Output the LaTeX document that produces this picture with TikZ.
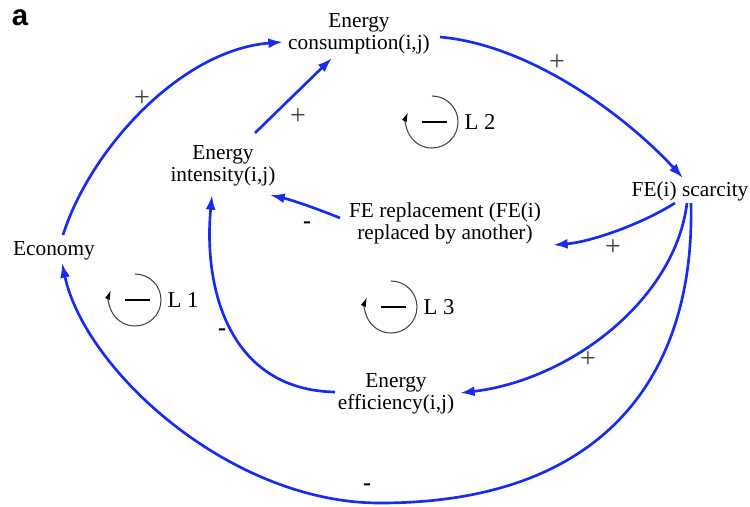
\documentclass[tikz,border=0pt]{standalone}
\usepackage{fontspec}
\setmainfont{Liberation Serif}
\newfontfamily\panelfont{Liberation Sans}
\usepackage{tikz}
\usetikzlibrary{arrows.meta,calc}
\definecolor{linkblue}{RGB}{22,45,238}
\definecolor{loopgray}{RGB}{70,70,70}
\tikzset{
  varbox/.style={align=center,inner sep=1pt,font=\fontsize{16}{16.5}\selectfont},
  link/.style={draw=linkblue,line width=2pt,-{Latex[length=11pt,width=7.5pt]}},
  plussgn/.style={inner sep=0pt,text=black!75,font=\fontsize{21}{21}\selectfont},
  minussgn/.style={inner sep=0pt,font=\fontsize{18}{18}\selectfont\bfseries},
  looplab/.style={inner sep=0pt,font=\fontsize{17}{17}\selectfont}
}
\begin{document}
\begin{tikzpicture}[x=0.75pt,y=0.75pt,yscale=-1,xscale=1]
\useasboundingbox (0,0) rectangle (750,507);

%Panel letter
\node[font=\panelfont\bfseries\fontsize{22}{22}\selectfont] (panel) at (20,18) {a};

%Variables
\node[varbox] (cons) at (359,33.5) {Energy\\consumption(i,j)};
\node[varbox] (int) at (223,165.5) {Energy\\intensity(i,j)};
\node[varbox] (scar) at (690,191) {FE(i) scarcity};
\node[varbox] (repl) at (445,223) {FE replacement (FE(i)\\replaced by another)};
\node[varbox] (eco) at (54,251) {Economy};
\node[varbox] (eff) at (396,394) {Energy\\efficiency(i,j)};

%Links
\draw[link] ($(eco)+(9,-16)$) .. controls (90,150) and (180,50) .. ($(cons)+(-76,8.5)$);
\draw[link] ($(int)+(32,-32.5)$) -- ($(cons)+(-27,24.5)$);
\draw[link] ($(cons)+(81,3.5)$) .. controls (530,45) and (625,115) .. ($(scar)+(-7,-13)$);
\draw[link] ($(scar)+(-15,12)$) .. controls (640,225) and (590,242) .. ($(repl)+(108,22)$);
\draw[link] ($(repl)+(-105,-5)$) .. controls (318,209) and (292,200) .. ($(int)+(47,29.5)$);
\draw[link] ($(scar)+(-3,12)$) .. controls (675,300) and (570,380) .. ($(eff)+(64,-1)$);
\draw[link] ($(eff)+(-61,-2)$) .. controls (230,390) and (203,290) .. ($(int)+(-11,29.5)$);
\draw[link] ($(scar)+(1,12)$) .. controls (695,380) and (600,503) .. (380,503)
  .. controls (230,503) and (85,370) .. ($(eco)+(8,12)$);

%Polarities
\node[plussgn] (p1) at (142,99) {+};
\node[plussgn] (p2) at (298,117) {+};
\node[plussgn] (p3) at (557,63) {+};
\node[plussgn] (p4) at (613,248) {+};
\node[plussgn] (p5) at (588,360) {+};
\node[minussgn] (m1) at (307,225) {-};
\node[minussgn] (m2) at (222,332) {-};
\node[minussgn] (m3) at (367,487) {-};

%Loop markers
\foreach \cx/\cy/\k in {135/300/1,432/122/2,391/307/3}{
  \draw[loopgray,line width=0.8pt,-{Latex[length=7pt,width=4pt,black]}] (\cx,\cy) ++(0,-26) arc[start angle=-90,end angle=202,radius=26];
  \draw[line width=0.9pt] (\cx-10,\cy) -- (\cx+15,\cy);
  \node[looplab] (loop\k) at (\cx+48,\cy) {L \k};
}

\end{tikzpicture}
\end{document}
